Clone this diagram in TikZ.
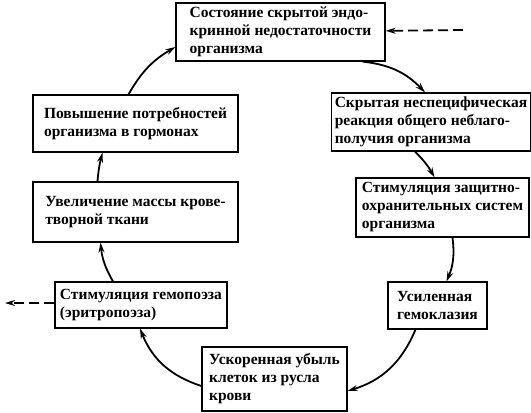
\documentclass[tikz,border=0pt]{standalone}
\usepackage{fontspec}
\setmainfont{Liberation Serif}
\usetikzlibrary{arrows.meta}
\tikzset{
  box/.style={draw, line width=1.2pt, align=left, inner sep=3pt,
    font=\bfseries\fontsize{15.5}{18}\selectfont},
  flow/.style={->, line width=1.8pt},
  hint/.style={->, line width=1.8pt, dash pattern=on 10pt off 5pt}
}
\begin{document}
\begin{tikzpicture}[x=1pt, y=-1pt, >={Stealth[length=10pt, width=6pt]}]
    \useasboundingbox (0,0) rectangle (531,413);

    % Boxes of the cycle
    \node[box, minimum width=209pt, minimum height=58pt] (state) at (280.5,32)
        {Состояние скрытой эндо-\\кринной недостаточности\\организма};
    \node[box, minimum width=196pt, minimum height=58pt] (react) at (431,122)
        {Скрытая неспецифическая\\реакция общего неблаго-\\получия организма};
    \node[box, minimum width=173pt, minimum height=59pt] (guard) at (442.5,207.5)
        {Стимуляция защитно-\\охранительных систем\\организма};
    \node[box, minimum width=99pt, minimum height=47pt] (clasia) at (437.5,305.5)
        {Усиленная\\гемоклазия};
    \node[box, minimum width=145pt, minimum height=64pt] (loss) at (274.5,379)
        {Ускоренная убыль\\клеток из русла\\крови};
    \node[box, minimum width=172pt, minimum height=46pt] (poesis) at (141,305)
        {Стимуляция гемопоэза\\(эритропоэза)};
    \node[box, minimum width=205pt, minimum height=60pt] (mass) at (135.5,212)
        {Увеличение массы крове-\\творной ткани};
    \node[box, minimum width=205pt, minimum height=57pt] (need) at (135.5,123.5)
        {Повышение потребностей\\организма в гормонах};

    % Cycle arrows
    \draw[flow] ([xshift=-23pt]state.south east) to[bend left=20] ([xshift=-6pt]react.north);
    \draw[flow] ([xshift=-16pt]react.south) to[bend left=8] ([xshift=-8pt]guard.north);
    \draw[flow] ([xshift=10pt]guard.south) to[bend left=15] ([xshift=9pt]clasia.north);
    \draw[flow] ([xshift=-22pt]clasia.south) to[bend left=25] ([yshift=-12pt]loss.east);
    \draw[flow] ([yshift=-7pt]loss.west) to[bend left=25] ([xshift=-1pt]poesis.south);
    \draw[flow] ([xshift=-28pt]poesis.north) to[bend left=12] ([xshift=-35pt]mass.south);
    \draw[flow] ([xshift=-38pt]mass.north) to[bend left=5] ([xshift=-33pt]need.south);
    \draw[flow] ([xshift=-7pt]need.north) to[bend left=15] ([yshift=-15pt]state.west);

    % Dashed arrows
    \coordinate (inflow) at (463,30);
    \coordinate (outflow) at (5,303);
    \draw[hint] (inflow) -- (state);
    \draw[hint] (poesis.west |- outflow) -- (outflow);
\end{tikzpicture}
\end{document}
